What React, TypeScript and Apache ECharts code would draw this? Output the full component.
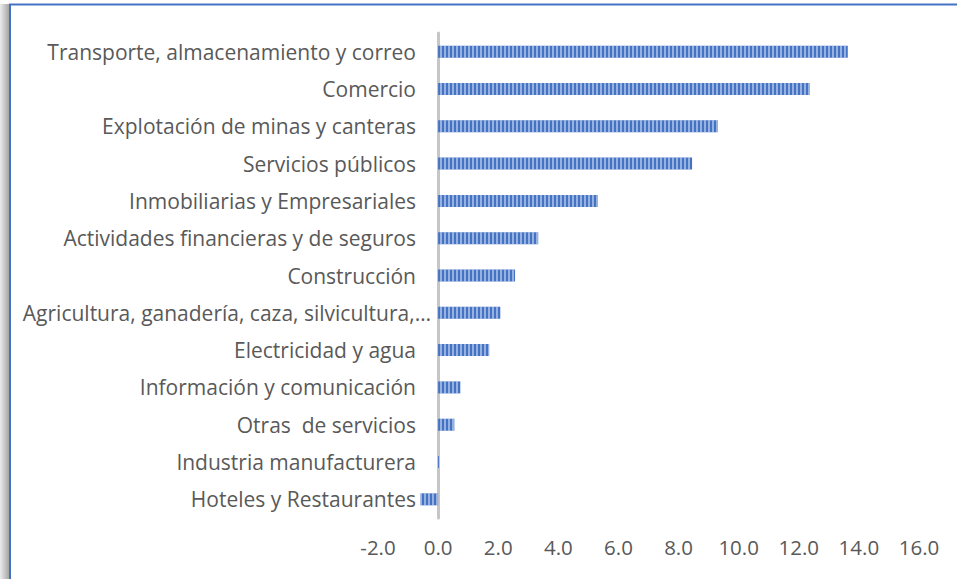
import React, { useEffect, useRef } from "react";
import * as echarts from "echarts";

const categories = [
  "Transporte, almacenamiento y correo",
  "Comercio",
  "Explotación de minas y canteras",
  "Servicios públicos",
  "Inmobiliarias y Empresariales",
  "Actividades financieras y de seguros",
  "Construcción",
  "Agricultura, ganadería, caza, silvicultura,…",
  "Electricidad y agua",
  "Información y comunicación",
  "Otras  de servicios",
  "Industria manufacturera",
  "Hoteles y Restaurantes",
];

const values = [13.63, 12.37, 9.31, 8.45, 5.32, 3.33, 2.56, 2.07, 1.7, 0.74, 0.54, 0.03, -0.59];

const FONT = "Open Sans";
const FS = 21;
const FSX = 20.5;

export default function App() {
  const ref = useRef<HTMLDivElement>(null);
  useEffect(() => {
    document.body.style.margin = "0";
    const chart = echarts.init(ref.current!, null, { renderer: "svg" });
    chart.setOption({
      animation: false,
      backgroundColor: "#ffffff",
      textStyle: { fontFamily: FONT },
      graphic: [
        {
          type: "rect",
          shape: { x: 0, y: 4, width: 9, height: 600 },
          style: {
            fill: new echarts.graphic.LinearGradient(0, 0, 1, 0, [
              { offset: 0, color: "#ececec" },
              { offset: 1, color: "#a6a6a6" },
            ]),
          },
          z: 100,
        },
        {
          type: "rect",
          shape: { x: 10, y: 4.5, width: 1000, height: 1000 },
          style: { fill: "none", stroke: "#4472C4", lineWidth: 2 },
          z: 101,
        },
      ],
      grid: { left: 378, right: 38, top: 33, bottom: 61, containLabel: false },
      xAxis: {
        type: "value",
        min: -2,
        max: 16,
        interval: 2,
        axisLine: { show: false },
        axisTick: { show: false },
        splitLine: { show: false },
        axisLabel: {
          formatter: (v: number) => v.toFixed(1),
          color: "#595959",
          fontSize: FSX,
          fontFamily: FONT,
          margin: 18,
        },
      },
      yAxis: {
        type: "category",
        data: categories,
        inverse: true,
        axisTick: { show: false },
        axisLine: { show: true, onZero: true, lineStyle: { color: "#c6c6c6", width: 3 } },
        axisLabel: {
          color: "#595959",
          fontSize: FS,
          fontFamily: FONT,
          margin: -53,
          formatter: (v: string) =>
            v.startsWith("Agricultura") ? "{w|" + v + "}" : "{n|" + v + "}",
          rich: {
            n: { fontSize: FS, fontFamily: FONT, color: "#595959", padding: [0, 15, 0, 0] },
            w: { fontSize: FS, fontFamily: FONT, color: "#595959", padding: [0, 0, 0, 0] },
          },
        },
      },
      series: [
        {
          type: "bar",
          data: values,
          barWidth: 12,
          itemStyle: {
            color: "#4472C4",
            decal: {
              symbol: "rect",
              symbolSize: 1,
              color: "rgba(255,255,255,0.45)",
              dashArrayX: [2, 2],
              dashArrayY: [1, 0],
              rotation: 0,
            },
          },
        },
      ],
    });
    return () => chart.dispose();
  }, []);
  return <div ref={ref} style={{ width: 957, height: 579 }} />;
}
